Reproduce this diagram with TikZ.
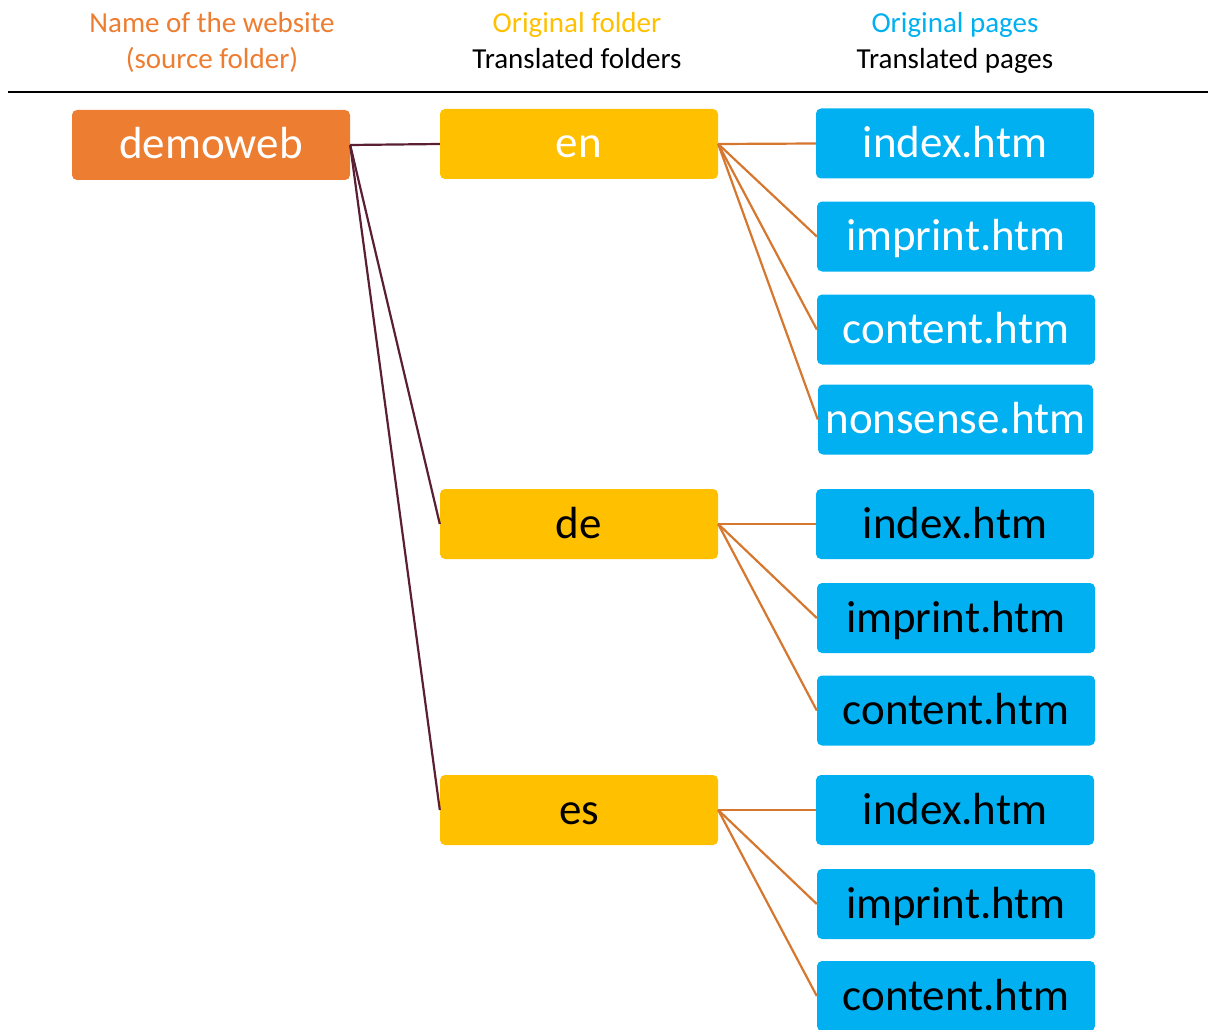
\documentclass[tikz,border=0pt]{standalone}
\usepackage{fontspec}
\setmainfont{Carlito}
\definecolor{orangebox}{HTML}{ED7D31}
\definecolor{yellowbox}{HTML}{FFC000}
\definecolor{bluebox}{HTML}{00B0F0}
\definecolor{maroonline}{HTML}{5A1E35}
\definecolor{orangeline}{HTML}{D6772F}
\begin{document}
\begin{tikzpicture}[x=1pt,y=-1pt,
  box/.style={rounded corners=5pt, inner sep=0pt, minimum width=278pt, minimum height=70pt,
    font=\fontsize{45}{54}\selectfont, text height=32pt, text depth=4pt},
  sitebox/.style={box, fill=orangebox, text=white},
  folderbox/.style={box, fill=yellowbox},
  pagebox/.style={box, fill=bluebox},
  hdr/.style={font=\fontsize{29}{36}\selectfont, align=center, inner sep=0pt, text height=20pt, text depth=6pt},
  rootlink/.style={draw=maroonline, line width=2.2pt},
  pagelink/.style={draw=orangeline, line width=2.2pt}]
\clip (0,0) rectangle (1208,1030);
\useasboundingbox (0,0) rectangle (1208,1030);

% header
\node[hdr, text=orangebox] (h1a) at (212,26) {Name of the website};
\node[hdr, text=orangebox] (h1b) at (212,62) {(source folder)};
\node[hdr, text=yellowbox] (h2a) at (577,26) {Original folder};
\node[hdr, text=black] (h2b) at (577,62) {Translated folders};
\node[hdr, text=bluebox] (h3a) at (955,26) {Original pages};
\node[hdr, text=black] (h3b) at (955,62) {Translated pages};
\draw[line width=2pt] (8,92) -- (1208,92);

% root
\node[sitebox] (demo) at (211,145) {demoweb};

% folders
\node[folderbox, text=white] (en) at (579,144) {en};
\node[folderbox, text=black] (de) at (579,524) {de};
\node[folderbox, text=black] (es) at (579,810) {es};

% en pages
\node[pagebox, text=white] (enidx) at (955,143.5) {index.htm};
\node[pagebox, text=white] (enimp) at (956,236.5) {imprint.htm};
\node[pagebox, text=white] (encon) at (956,329.5) {content.htm};
\node[pagebox, text=white, minimum width=275pt] (ennon) at (955.5,419.5) {nonsense.htm};

% de pages
\node[pagebox, text=black] (deidx) at (955,524) {index.htm};
\node[pagebox, text=black] (deimp) at (956,618) {imprint.htm};
\node[pagebox, text=black] (decon) at (956,710.5) {content.htm};

% es pages
\node[pagebox, text=black] (esidx) at (955,810) {index.htm};
\node[pagebox, text=black] (esimp) at (956,904) {imprint.htm};
\node[pagebox, text=black] (escon) at (956,996) {content.htm};

% connectors
\draw[rootlink] (demo.east) -- (en.west);
\draw[rootlink] (demo.east) -- (de.west);
\draw[rootlink] (demo.east) -- (es.west);

\foreach \p in {enidx,enimp,encon,ennon} \draw[pagelink] (en.east) -- (\p.west);
\foreach \p in {deidx,deimp,decon} \draw[pagelink] (de.east) -- (\p.west);
\foreach \p in {esidx,esimp,escon} \draw[pagelink] (es.east) -- (\p.west);
\end{tikzpicture}
\end{document}
